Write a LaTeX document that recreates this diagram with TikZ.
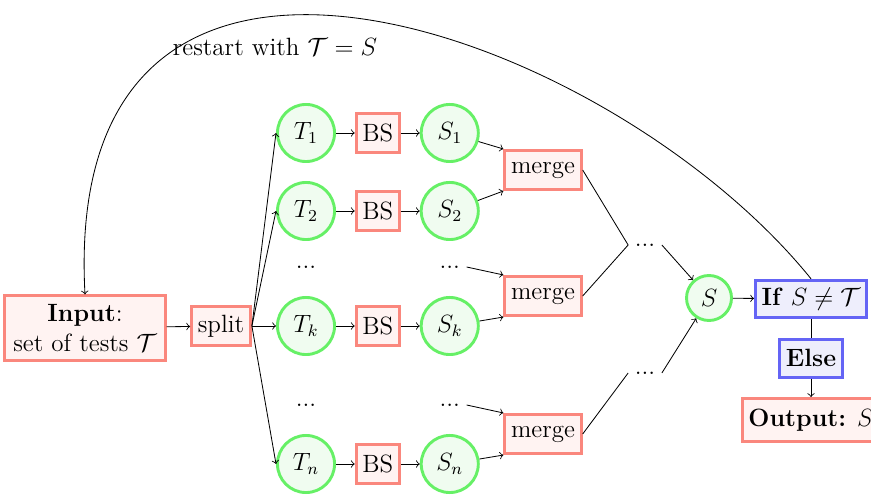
\documentclass[tikz,border=0pt,12pt]{standalone}
\usepackage{amsmath}
\usepackage{amssymb}
\usetikzlibrary{arrows,positioning}

\definecolor{setgreen}{RGB}{102,240,102}
\definecolor{setfill}{RGB}{240,252,240}
\definecolor{procred}{RGB}{250,135,125}
\definecolor{procfill}{RGB}{255,243,242}
\definecolor{testblue}{RGB}{100,100,245}
\definecolor{testfill}{RGB}{238,238,252}

\begin{document}
\begin{tikzpicture}[->,>=to,auto,x=0.48pt,y=-0.48pt,node distance=34.5pt,
  set node/.style={circle,draw=setgreen,fill=setfill,line width=1.4pt,minimum size=27.4pt,inner sep=0pt},
  proc box/.style={rectangle,draw=procred,fill=procfill,line width=1.4pt,inner sep=3pt,minimum height=18.8pt},
  test box/.style={rectangle,draw=testblue,fill=testfill,line width=1.4pt,inner sep=3pt,minimum height=18pt},
  dots node/.style={inner sep=3pt}]

  \useasboundingbox (0,0) rectangle (871,498);

  \node[proc box,align=center,inner sep=4pt] (input) at (85,328) {\textbf{Input}:\\ set of tests $\mathcal{T}$};
  \node[proc box] (split) at (221,326) {split};

  \node[set node] (t1) at (306,133) {$T_1$};
  \node[proc box] (bs1) [right of=t1] {BS};
  \node[set node] (s1) [right of=bs1] {$S_1$};

  \node[set node] (t2) at (306,211) {$T_2$};
  \node[proc box] (bs2) [right of=t2] {BS};
  \node[set node] (s2) [right of=bs2] {$S_2$};

  \node[dots node] (tdots1) at (306,267) {...};
  \node[dots node] (sdots1) [right of=tdots1,node distance=69pt] {...};

  \node[set node] (tk) at (306,326) {$T_k$};
  \node[proc box] (bsk) [right of=tk] {BS};
  \node[set node] (sk) [right of=bsk] {$S_k$};

  \node[dots node] (tdots2) at (306,405) {...};
  \node[dots node] (sdots2) [right of=tdots2,node distance=69pt] {...};

  \node[set node] (tn) at (306,464) {$T_n$};
  \node[proc box] (bsn) [right of=tn] {BS};
  \node[set node] (sn) [right of=bsn] {$S_n$};

  \node[proc box] (merge1) at (543,170) {merge};
  \node[proc box] (merge2) at (543,296) {merge};
  \node[proc box] (merge3) at (543,434) {merge};

  \node[dots node] (mdots1) at (645,245) {...};
  \node[dots node] (mdots2) at (645,373) {...};

  \node[set node,minimum size=21.6pt] (final) at (709,298) {$S$};
  \node[test box] (ifnode) at (811,299) {\textbf{If} $S \neq \mathcal{T}$};
  \node[test box] (elsebox) [below of=ifnode,node distance=28.5pt] {\textbf{Else}};
  \node[proc box,minimum height=20.5pt] (output) [below of=elsebox,node distance=29.5pt] {\textbf{Output:} $S$};

  \node (restart) at (275,47) {restart with $\mathcal{T} = S$};

  \path
    (input) edge (split)
    (split.east) edge (t1.west)
                 edge (t2.west)
                 edge (tk.west)
                 edge (tn.west)
    (t1) edge (bs1)
    (bs1) edge (s1)
    (t2) edge (bs2)
    (bs2) edge (s2)
    (tk) edge (bsk)
    (bsk) edge (sk)
    (tn) edge (bsn)
    (bsn) edge (sn)
    (s1) edge (merge1.north west)
    (s2) edge (merge1.south west)
    (sdots1.east) edge (merge2.north west)
    (sk) edge (merge2.south west)
    (sdots2.east) edge (merge3.north west)
    (sn) edge (merge3.south west)
    (merge1.east) edge[-] (mdots1.west)
    (merge2.east) edge[-] (mdots1.west)
    (merge3.east) edge[-] (mdots2.west)
    (mdots1.east) edge (final)
    (mdots2.east) edge (final)
    (final) edge (ifnode)
    (ifnode) edge[-] (elsebox)
    (elsebox) edge (output);

  % back to the start
  \draw (ifnode.north) .. controls (610,30) and (60,-170) .. (input.north);
\end{tikzpicture}
\end{document}
